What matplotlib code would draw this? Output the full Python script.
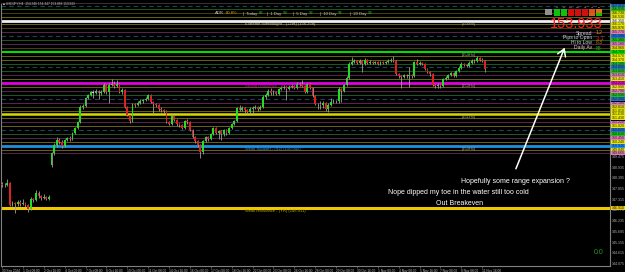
import matplotlib.pyplot as plt
from matplotlib.patches import Rectangle

plt.rcParams['font.family'] = ['Liberation Sans', 'DejaVu Sans']

W, H = 625, 272

# USDJPY H4 candles
first_open = 148.10
gap_opens = {19: 149.05}
closes = [
    148.06, 148.04, 148.16, 147.05, 147.15, 147.10, 147.20, 147.10, 147.15, 147.05,
    146.85, 147.35, 147.30, 147.65, 147.50, 147.40, 147.45, 147.35, 147.45, 149.67,
    150.08, 150.33, 150.23, 150.03, 150.33, 150.43, 150.40, 150.68, 150.94, 151.24,
    152.00, 152.05, 152.45, 152.60, 152.75, 152.73, 152.80, 152.70, 152.75, 153.11,
    152.75, 153.11, 153.16, 153.06, 153.16, 152.75, 152.86, 152.00, 151.59, 151.29,
    152.15, 152.10, 152.20, 152.30, 152.35, 152.40, 152.60, 152.25, 152.15, 152.10,
    151.90, 151.85, 151.79, 151.24, 151.14, 151.54, 151.34, 151.14, 151.09, 150.94,
    151.29, 151.24, 150.84, 150.48, 150.28, 150.08, 149.72, 150.28, 150.48, 150.38,
    150.63, 150.94, 150.68, 150.78, 150.63, 150.84, 150.68, 150.94, 151.14, 151.29,
    151.95, 151.85, 151.95, 151.85, 151.74, 151.90, 151.95, 152.00, 151.90, 152.00,
    152.50, 152.60, 152.80, 152.70, 152.75, 152.65, 152.91, 152.96, 153.01, 152.91,
    153.01, 153.06, 152.96, 153.16, 153.14, 153.06, 152.75, 153.16, 152.96, 152.55,
    152.15, 152.13, 152.10, 152.20, 151.90, 152.10, 152.25, 152.30, 152.28, 152.91,
    152.80, 153.11, 153.46, 154.17, 154.27, 154.32, 154.22, 154.32, 154.17, 154.37,
    154.22, 154.27, 154.22, 154.27, 154.17, 154.27, 154.22, 154.27, 154.32, 154.37,
    154.32, 153.66, 153.56, 153.51, 153.61, 153.56, 153.61, 153.56, 154.27, 154.17,
    154.22, 154.17, 153.92, 153.76, 153.66, 153.11, 153.06, 153.11, 153.06, 153.41,
    153.46, 153.61, 153.71, 153.56, 153.81, 153.97, 154.17, 154.12, 154.07, 154.22,
    154.32, 154.30, 154.47, 154.37, 154.32, 153.93]
highs = [
    148.20, 148.14, 148.36, 148.22, 147.24, 147.22, 147.30, 147.28, 147.35, 147.22,
    147.10, 147.45, 147.40, 147.82, 147.75, 147.55, 147.62, 147.50, 147.55, 149.75,
    150.20, 150.50, 150.45, 150.35, 150.40, 150.50, 150.52, 150.75, 151.00, 151.30,
    152.08, 152.15, 152.52, 152.68, 152.82, 152.85, 152.90, 152.88, 152.85, 153.20,
    153.18, 153.20, 153.42, 153.30, 153.35, 153.22, 152.95, 152.90, 152.05, 151.62,
    152.22, 152.22, 152.28, 152.38, 152.42, 152.48, 152.68, 152.65, 152.30, 152.22,
    152.15, 151.98, 151.90, 151.85, 151.30, 151.62, 151.60, 151.40, 151.20, 151.15,
    151.35, 151.38, 151.30, 150.90, 150.55, 150.35, 150.12, 150.35, 150.55, 150.55,
    150.70, 151.00, 150.98, 150.85, 150.85, 150.90, 150.90, 151.00, 151.20, 151.36,
    152.02, 152.10, 152.05, 152.00, 151.92, 151.98, 152.05, 152.08, 152.05, 152.08,
    152.58, 152.70, 152.90, 152.95, 152.85, 152.80, 152.98, 153.05, 153.10, 153.08,
    153.10, 153.15, 153.12, 153.25, 153.25, 153.38, 153.12, 153.22, 153.20, 153.00,
    152.60, 152.22, 152.30, 152.28, 152.25, 152.18, 152.45, 152.38, 152.35, 153.00,
    152.96, 153.18, 153.55, 154.25, 154.50, 154.40, 154.38, 154.40, 154.36, 154.45,
    154.42, 154.35, 154.32, 154.34, 154.32, 154.34, 154.32, 154.34, 154.40, 154.45,
    154.55, 154.36, 153.72, 153.62, 153.68, 153.66, 154.02, 153.68, 154.34, 154.40,
    154.30, 154.28, 154.22, 153.98, 153.80, 153.70, 153.18, 153.20, 153.16, 153.48,
    153.55, 153.68, 153.78, 153.75, 153.88, 154.05, 154.25, 154.24, 154.18, 154.30,
    154.40, 154.40, 154.55, 154.52, 154.45, 154.35]
lows = [
    147.98, 147.96, 148.00, 146.98, 146.98, 146.64, 147.02, 147.02, 147.05, 146.96,
    146.70, 146.80, 147.22, 147.25, 147.40, 147.32, 147.35, 147.28, 147.30, 148.98,
    149.55, 150.00, 150.15, 149.95, 149.98, 150.28, 150.30, 150.35, 150.62, 150.88,
    151.18, 151.90, 152.00, 152.40, 152.55, 152.45, 152.65, 152.40, 152.62, 152.70,
    152.68, 152.20, 153.05, 152.98, 153.00, 152.70, 152.65, 151.95, 151.52, 151.20,
    151.25, 152.02, 152.05, 152.15, 152.22, 152.28, 152.35, 152.18, 151.70, 152.00,
    151.82, 151.75, 151.70, 151.18, 151.08, 151.10, 151.28, 151.05, 150.98, 150.88,
    150.90, 151.15, 150.78, 150.42, 150.20, 150.00, 149.42, 149.65, 150.22, 150.30,
    150.32, 150.58, 150.62, 150.40, 150.35, 150.55, 150.60, 150.62, 150.90, 151.10,
    151.25, 151.78, 151.80, 151.72, 151.62, 151.68, 151.62, 151.88, 151.82, 151.85,
    151.95, 152.42, 152.55, 152.62, 152.62, 152.58, 152.60, 152.85, 152.90, 152.35,
    152.85, 152.95, 152.90, 152.92, 153.05, 153.00, 152.70, 152.70, 152.90, 152.50,
    152.08, 151.90, 151.92, 151.95, 151.82, 151.75, 152.05, 152.20, 152.18, 152.22,
    152.25, 152.75, 153.05, 153.40, 154.10, 154.20, 154.15, 154.18, 153.75, 154.12,
    154.15, 154.15, 154.15, 154.16, 154.10, 154.12, 154.15, 154.16, 154.20, 154.28,
    154.25, 153.60, 153.48, 152.95, 153.45, 153.48, 153.00, 153.48, 153.50, 154.10,
    154.12, 154.10, 153.85, 153.70, 153.58, 153.05, 152.98, 152.98, 152.98, 153.02,
    153.36, 153.40, 153.56, 153.50, 153.52, 153.76, 153.92, 154.05, 154.00, 154.02,
    154.18, 154.22, 154.25, 154.30, 154.25, 153.75]

time_labels = ["30 Sep 2024", "1 Oct 08:00", "2 Oct 16:00", "4 Oct 00:00", "7 Oct 08:00",
               "8 Oct 16:00", "10 Oct 00:00", "11 Oct 08:00", "14 Oct 16:00", "16 Oct 00:00",
               "17 Oct 08:00", "18 Oct 16:00", "22 Oct 00:00", "23 Oct 08:00", "24 Oct 16:00",
               "28 Oct 00:00", "29 Oct 08:00", "30 Oct 16:00", "1 Nov 00:00", "4 Nov 08:00",
               "5 Nov 16:00", "7 Nov 00:00", "8 Nov 08:00", "11 Nov 16:00"]
label_every = 8

# horizontal levels
level_prices = [157.11, 156.93, 156.73, 156.53, 156.35, 156.17, 155.97, 155.77, 155.58, 155.38,
                155.18, 154.96, 154.76, 154.57, 154.37, 154.18, 154.00, 153.82, 153.61, 153.41,
                153.21, 152.99, 152.79, 152.59, 152.39, 152.18, 152.01, 151.81, 151.63, 151.43,
                151.22, 151.02, 150.82, 150.62, 150.45, 150.24, 150.04, 149.84, 149.66, 146.91]
level_kinds = ['n', 'g', 'd', 'o', 'W', 'o', 'd', 'p', 'n', 'g',
               'p', 'd', 'L', 'o', 'o', 'g', 'n', 'g', 'p', 'o',
               'M', 'o', 'p', 'g', 'n', 'p', 'd', 'o', 'Y', 'o',
               'p', 'o', 'n', 'g', 'p', 'o', 'B', 'o', 'p', 'G']
axis_ticks = [144.075, 144.615, 145.155, 145.695, 146.235, 146.775,
              147.315, 147.855, 148.395, 148.935, 149.475]

styles = {
    'n': ('#24405e', 0.8, (0, (4, 3)), '#1e6fd0'),
    'g': ('#1b5a1b', 0.7, '-', '#19c219'),
    'd': ('#45420a', 0.7, '-', '#d6d600'),
    'o': ('#6a6512', 0.7, '-', '#e6e600'),
    'p': ('#5a2450', 0.7, '-', '#e07ab8'),
    'W': ('#f0f0f0', 2.0, '-', '#f0f0f0'),
    'L': ('#00e000', 1.5, '-', '#00e000'),
    'M': ('#e000e0', 2.0, '-', '#e000e0'),
    'Y': ('#d8d800', 1.8, '-', '#e8e800'),
    'B': ('#1e90e0', 2.0, '-', '#1e90ff'),
    'G': ('#f0c800', 2.2, '-', '#f0d000'),
}

notes = [("Extreme overbought - (+2W) (156.258)", 156.35, '#c8c8c8'),
         ("Strong resistance - (R1) (153.209)", 153.21, '#b020b0'),
         ("Weak Support - (S2) (150.042)", 150.04, '#3a90d8'),
         ("Weak resistance - (YR) (146.911)", 146.91, '#b8a800')]
brackets = [("[156Hx]", 156.35), ("[154Hx]", 154.76), ("[153Hx]", 153.21),
            ("[151Hx]", 151.63), ("[150Hx]", 150.04)]

comments = [("Hopefully some range expansion ?", 196.6, 148.22),
            ("Nope dipped my toe in the water still too cold", 174.7, 147.67),
            ("Out Breakeven", 175.5, 147.11)]
arrow_from = (196.5, 148.75)
arrow_to = (216.0, 155.13)

adr_parts = [("ADR", "80.8%", '#e0b000', 215), ("|  Today", "83", '#20c020', 243),
             ("|  1 Day", "93", '#20c020', 267), ("|  5 Day", "92", '#20c020', 293),
             ("|  10 Day", "94", '#20c020', 320), ("|  20 Day", "93", '#20c020', 350)]
info_rows = [("Spread", "1.2", '#e0a000'), ("Pips to Open", "-3.1", '#e02020'),
             ("Hi to Low", "8.3", '#e07000'), ("Daily Av", "88", '#20c020')]
tf_names = ["M1", "M5", "M15", "M30", "H1", "H4", "D1"]
tf_row1 = ['#10c010', '#10c010', '#d01010', '#d01010', '#d01010', '#e05010', '#e07010']
tf_row2 = ['#10c010', '#10c010', '#d01010', '#d01010', '#d01010', '#d06020', '#10c010']


def px(x, y):
    return x / W, 1 - y / H


fig = plt.figure(figsize=(W / 100, H / 100), dpi=100, facecolor='black')
ax = fig.add_axes([1 / W, 6 / H, 609 / W, 263 / H])
ax.set_facecolor('black')

opens = []
for i in range(len(closes)):
    if i in gap_opens:
        opens.append(gap_opens[i])
    elif i == 0:
        opens.append(first_open)
    else:
        opens.append(closes[i - 1])

xs = list(range(len(closes)))
for p, k in zip(level_prices, level_kinds):
    c, lw, ls, _ = styles[k]
    ax.axhline(p, color=c, lw=lw, ls=ls, zorder=1)

ax.vlines(xs, lows, highs, color='#a0a0a0', lw=0.6, zorder=3)
bottoms, heights, cols = [], [], []
for o, c in zip(opens, closes):
    bottoms.append(min(o, c))
    heights.append(max(abs(c - o), 0.02))
    if abs(c - o) < 0.03:
        cols.append('#d0d0d0')
    elif c > o:
        cols.append('#22dd22')
    else:
        cols.append('#e02020')
ax.bar(xs, heights, bottom=bottoms, width=0.7, color=cols, linewidth=0, zorder=4)

ax.set_xlim(-0.38, 232.95)
ax.set_ylim(143.97, 157.25)

for t, p, c in notes:
    ax.text(93, p - 0.04, t, color=c, fontsize=3, va='top', ha='left', zorder=5)
for t, p in brackets:
    ax.text(176, p - 0.05, t, color='#a0a0a0', fontsize=3, va='top', ha='left', zorder=5)

for t, x, y in comments:
    ax.text(x, y, t, color='white', fontsize=5, ha='center', va='center', zorder=6)
ax.annotate('', xy=arrow_to, xytext=arrow_from,
            arrowprops=dict(arrowstyle='->,head_length=0.5,head_width=0.3',
                            color='white', lw=1.1), zorder=6)

# x axis
tick_pos = [i * label_every for i in range(len(time_labels))]
ax.set_xticks(tick_pos)
ax.set_xticklabels(time_labels, fontsize=2.3, color='#c0c0c0', ha='left')
ax.tick_params(axis='x', colors='#909090', length=1.5, width=0.4, pad=0.6, labelcolor='#c0c0c0')
ax.set_yticks([])
for s in ['left', 'bottom', 'right']:
    ax.spines[s].set_color('#808080')
    ax.spines[s].set_linewidth(0.8)
ax.spines['top'].set_color('#303030')

# price axis labels
fig.canvas.draw()
renderer = fig.canvas.get_renderer()
for p in axis_ticks:
    yd = ax.transData.transform((0, p))[1]
    fig.text(612 / W, yd / H, f"{p:.3f}", color='#b0b0b0', fontsize=2.6, va='center', ha='left')
for p, k in zip(level_prices, level_kinds):
    box = styles[k][3]
    yd = ax.transData.transform((0, p))[1]
    fig.add_artist(Rectangle((611 / W, (yd - 1.9) / H), 14 / W, 3.8 / H,
                             transform=fig.transFigure, facecolor=box, edgecolor='none'))
    fig.text(612 / W, yd / H, f"{p:.3f}", color='#202020', fontsize=2.6, va='center', ha='left')

# top texts
fig.text(*px(3, 4), "\u25a0 USDJPY,H4  154.346 154.347 153.888 153.933",
         color='#c0c0c0', fontsize=2.3, va='center', ha='left')
for lab, num, c, x in adr_parts:
    t = fig.text(*px(x, 13.5), lab, color='#c8c8c8', fontsize=3.0, va='center', ha='left')
    x1 = t.get_window_extent(renderer).x1
    fig.text((x1 + 1.5) / W, 1 - 13.5 / H, num, color=c, fontsize=3.0, va='center', ha='left')

fig.text(*px(603, 24), "153.933", color='#ff2020', fontsize=10.5, ha='right', va='center')
for i, (lab, val, c) in enumerate(info_rows):
    y = 33 + 5 * i
    fig.text(*px(592, y), lab, color='#d8d8d8', fontsize=3.6, ha='right', va='center')
    fig.text(*px(596, y), val, color=c, fontsize=3.6, ha='left', va='center')

fig.add_artist(Rectangle(px(545, 15), 7 / W, 6 / H, transform=fig.transFigure,
                         facecolor='#909090', edgecolor='none'))
for i, name in enumerate(tf_names):
    x0 = 554 + 7 * i
    fig.text(*px(x0 + 3.2, 7.5), name, color='#b0b0b0', fontsize=1.6, ha='center', va='center')
    fig.add_artist(Rectangle(px(x0, 12.6), 6.4 / W, 3.2 / H, transform=fig.transFigure,
                             facecolor=tf_row1[i], edgecolor='none'))
    fig.add_artist(Rectangle(px(x0, 16.2), 6.4 / W, 3.2 / H, transform=fig.transFigure,
                             facecolor=tf_row2[i], edgecolor='none'))

fig.text(*px(603, 252), "0.0", color='#20a020', fontsize=5, ha='right', va='center')

fig.savefig("out.png", dpi=100, facecolor='black')
